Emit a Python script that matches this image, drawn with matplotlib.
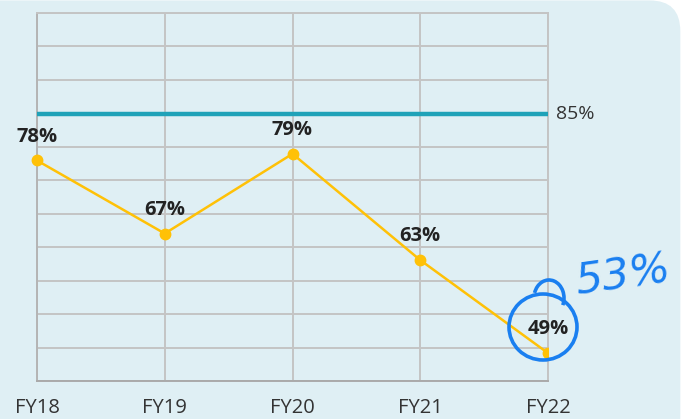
import matplotlib
matplotlib.use("Agg")
import matplotlib.pyplot as plt
from matplotlib.patches import FancyBboxPatch, Ellipse, Arc, Rectangle
import numpy as np

categories = ["FY18", "FY19", "FY20", "FY21", "FY22"]
values = [78, 67, 79, 63, 49]
labels = ["78%", "67%", "79%", "63%", "49%"]
target = 85
target_label = "85%"
note_text = "53%"

BG = "#dfeff4"
GRID = "#c4c4c4"
YELLOW = "#ffc107"
TEAL = "#1fa2b8"
BLUE = "#1a7ff0"

plt.rcParams['font.family'] = ['Open Sans', 'DejaVu Sans']

fig = plt.figure(figsize=(6.81, 4.19), dpi=100)
fig.patch.set_facecolor("white")
bg = FancyBboxPatch((-0.1, -0.1), 1.1 - 0.001, 1.1 - 0.001,
                    boxstyle="round,pad=0,rounding_size=0.045",
                    transform=fig.transFigure, facecolor=BG, edgecolor="none",
                    mutation_aspect=681/419, zorder=-10)
fig.patches.append(bg)

W, H = 681, 419
left, right, top, bottom = 37, 548, 13, 381
ax = fig.add_axes([left / W, (H - bottom) / H, (right - left) / W, (bottom - top) / H])
ax.set_zorder(1)
ax.set_facecolor(BG)

x = np.arange(len(categories))
ax.set_xlim(0, len(categories) - 1)
ax.set_ylim(44.8, 100.2)
ax.set_yticks(np.linspace(44.8, 100.2, 12))
ax.set_xticks(x)
ax.set_xticklabels(categories, fontsize=14.5, color="#333333")
ax.set_yticklabels([])
ax.tick_params(axis="both", length=0)
ax.tick_params(axis="x", pad=12.5)
ax.grid(True, color=GRID, linewidth=1.4)
ax.set_axisbelow(True)
for s in ax.spines.values():
    s.set_color(GRID)
    s.set_linewidth(1.4)
ax.spines["bottom"].set_color("#aaaaaa")
ax.spines["left"].set_color("#b4b4b4")

ax.axhline(target, color=TEAL, linewidth=3.2, zorder=3)
ax.annotate(target_label, xy=(1, target), xycoords=("axes fraction", "data"),
            xytext=(6, 0), textcoords="offset points", ha="left", va="center",
            fontsize=14, color="#333333", annotation_clip=False)

line, = ax.plot(x, values, color=YELLOW, linewidth=1.8, marker="o",
                markersize=7.5, zorder=4, clip_on=True)
clip = Rectangle((0, 0), right / W, 1, transform=fig.transFigure)
line.set_clip_path(clip)

for xi, v, lab in zip(x, values, labels):
    ax.annotate(lab, xy=(xi, v), xytext=(0, 17), textcoords="offset points",
                ha="center", va="center", fontsize=14.5, fontweight="bold",
                color="#222222", zorder=5, annotation_clip=False)

# hand-drawn annotation
fig_tr = fig.transFigure
circ = Ellipse((543 / W, 1 - 327 / H), 68 / W, 66 / H, transform=fig_tr,
               fill=False, edgecolor=BLUE, linewidth=2.6, zorder=10)
fig.patches.append(circ)
hook = Arc((549 / W, 1 - 298 / H), 30 / W, 36 / H, theta1=-40, theta2=150,
           transform=fig_tr, edgecolor=BLUE, linewidth=2.6, zorder=10)
fig.patches.append(hook)
fig.text(623 / W, 1 - 276 / H, note_text, transform=fig_tr, ha="center",
         va="center", fontsize=31, color=BLUE, rotation=8,
         family=["DejaVu Sans"], style="italic", fontweight="light", zorder=10)

fig.savefig("out.png", dpi=100, facecolor=fig.get_facecolor())
